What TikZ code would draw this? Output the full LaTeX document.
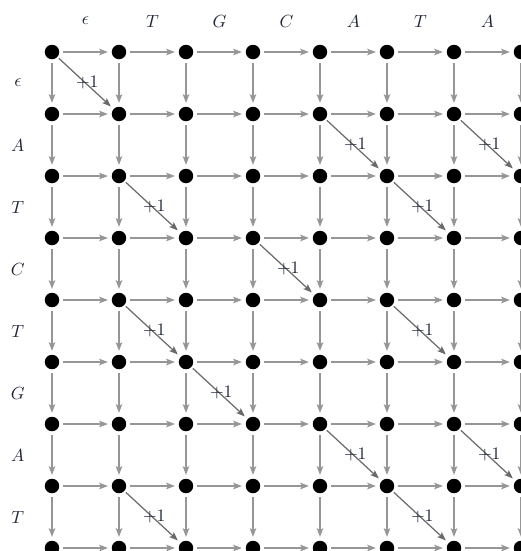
\documentclass[tikz,border=0pt]{standalone}
\usepackage{xcolor}
\usepackage{tikz}
\usetikzlibrary{arrows.meta}
\definecolor{edgeGray}{HTML}{969696}
\definecolor{matchGray}{HTML}{6A6A6A}
\definecolor{labelInk}{HTML}{1F2438}

\begin{document}
\begin{tikzpicture}[x=1.34cm,y=-1.24cm]
    \tikzset{dot/.style={circle,fill=black,inner sep=0pt,minimum size=2.9mm,outer sep=2.2pt}, arr/.style={-{Stealth[length=5pt,width=3.8pt,inset=1.2pt]},line width=0.7pt,draw=edgeGray}, match/.style={arr,draw=matchGray,shorten <=-1pt}, lbl/.style={text=labelInk}}
    \useasboundingbox (-1.04cm,1.04cm) rectangle (9.38cm,-9.98cm);
    % grid of cells
    \foreach \c in {0,...,7}
      \foreach \r in {0,...,8}
        \node[dot] (n-\c-\r) at (\c,\r) {};
    % sequence labels
    \foreach \s [count=\i from 0] in {\epsilon,T,G,C,A,T,A}
      \node[lbl] (top-\i) at (\i+0.5,-0.5) {$\s$};
    \foreach \s [count=\i from 0] in {\epsilon,A,T,C,T,G,A,T}
      \node[lbl] (side-\i) at (-0.51,\i+0.5) {$\s$};
    % moves
    \foreach \c [count=\d] in {0,...,6}
      \foreach \r in {0,...,8}
        \draw[arr] (n-\c-\r) -- (n-\d-\r);
    \foreach \c in {0,...,7}
      \foreach \r [count=\s] in {0,...,7}
        \draw[arr] (n-\c-\r) -- (n-\c-\s);
    \foreach \a/\b/\c/\d in {0/0/1/1, 4/1/5/2, 6/1/7/2, 1/2/2/3, 5/2/6/3, 3/3/4/4, 1/4/2/5, 5/4/6/5, 2/5/3/6, 4/6/5/7, 6/6/7/7, 1/7/2/8, 5/7/6/8}
      \draw[match] (n-\a-\b) -- node[lbl,midway,xshift=1pt] {$+1$} (n-\c-\d);
\end{tikzpicture}
\end{document}
